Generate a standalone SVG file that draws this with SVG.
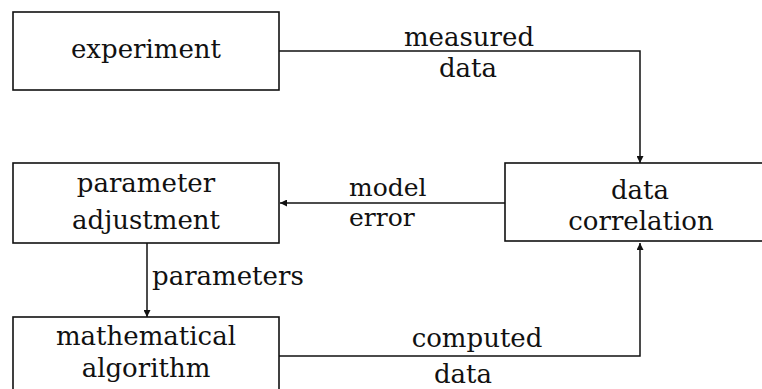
<svg xmlns="http://www.w3.org/2000/svg" width="762" height="389" viewBox="0 0 762 389">
<style>
.box{fill:none;stroke:#111;stroke-width:1.6}
.ln{fill:none;stroke:#111;stroke-width:1.5}
.t{font-family:'DejaVu Serif','Liberation Serif',serif;font-size:26px;fill:#111}
.s{font-size:25px}
.c{text-anchor:middle}
</style>
<defs>
<marker id="ah" viewBox="0 0 10 10" refX="10" refY="5" markerWidth="7" markerHeight="7" markerUnits="userSpaceOnUse" orient="auto">
<path d="M0,0 L10,5 L0,10 Z" fill="#111"/>
</marker>
</defs>
<rect width="762" height="389" fill="#fff"/>
<g id="connectors">
<path class="ln" d="M279,51 H640 V163" marker-end="url(#ah)"/>
<path class="ln" d="M505,203 H280" marker-end="url(#ah)"/>
<path class="ln" d="M147,243 V317" marker-end="url(#ah)"/>
<path class="ln" d="M279,356 H640 V243" marker-end="url(#ah)"/>
<text class="t c" x="469" y="46">measured</text>
<text class="t c" x="468" y="77">data</text>
<text class="t s" x="349" y="196">model</text>
<text class="t s" x="349" y="226">error</text>
<text class="t" x="152" y="285">parameters</text>
<text class="t c" x="477" y="347">computed</text>
<text class="t c" x="463" y="383">data</text>
</g>
<g id="experiment">
<rect class="box" x="13" y="12" width="266" height="78"/>
<text class="t c" x="146" y="58">experiment</text>
</g>
<g id="parameter-adjustment">
<rect class="box" x="13" y="163" width="266" height="80"/>
<text class="t c" x="146" y="192">parameter</text>
<text class="t c" x="146" y="229">adjustment</text>
</g>
<g id="data-correlation">
<rect class="box" x="505" y="163" width="270" height="78"/>
<text class="t c" x="640" y="199">data</text>
<text class="t c" x="641" y="230">correlation</text>
</g>
<g id="mathematical-algorithm">
<rect class="box" x="13" y="317" width="266" height="80"/>
<text class="t c" x="146" y="345">mathematical</text>
<text class="t c" x="146" y="377">algorithm</text>
</g>
</svg>
